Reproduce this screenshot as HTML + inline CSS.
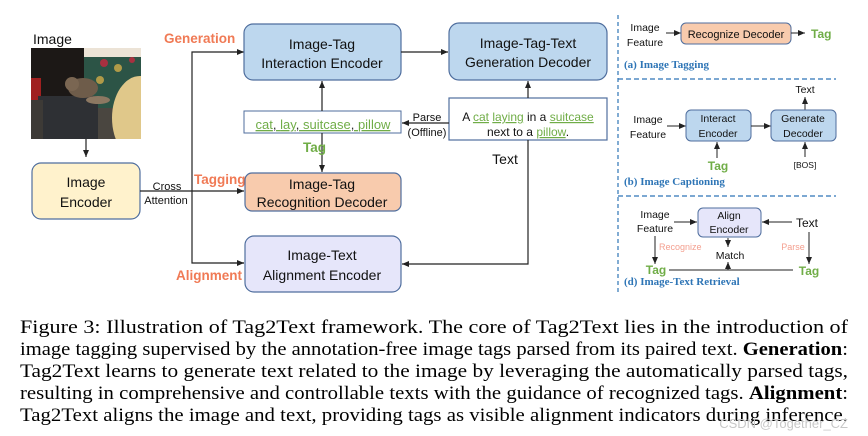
<!DOCTYPE html>
<html><head><meta charset="utf-8"><style>
html,body{margin:0;padding:0;background:#fff;width:868px;height:436px;overflow:hidden}
svg{display:block}
.s{font-family:"Liberation Sans",sans-serif}
</style></head><body>
<svg width="868" height="436" viewBox="0 0 868 436" xmlns="http://www.w3.org/2000/svg">
<defs>
<marker id="a" markerWidth="8" markerHeight="8" refX="7" refY="4" orient="auto" markerUnits="userSpaceOnUse"><path d="M0,1 L7,4 L0,7 z" fill="#222"/></marker>
<clipPath id="pc"><rect x="31" y="48" width="110" height="91"/></clipPath>
</defs>
<g class="s" font-size="14" fill="#111">
<!-- photo -->
<text x="33" y="44" font-size="14">Image</text>
<g clip-path="url(#pc)">
<rect x="31" y="48" width="110" height="91" fill="#4a4640"/>
<rect x="84" y="48" width="57" height="60" fill="#2c5446"/>
<rect x="84" y="48" width="57" height="9" fill="#ece3d6"/>
<rect x="31" y="48" width="53" height="50" fill="#1c1816"/>
<circle cx="104" cy="63" r="4" fill="#a83040"/><circle cx="118" cy="68" r="4" fill="#b09a48"/><circle cx="132" cy="60" r="3" fill="#a83040"/><circle cx="100" cy="80" r="4" fill="#b09a48"/>
<ellipse cx="140" cy="118" rx="28" ry="42" fill="#e0c88a"/>
<rect x="31" y="78" width="10" height="22" fill="#a02020"/>
<rect x="38" y="96" width="60" height="43" fill="#2e3034"/>
<rect x="31" y="100" width="12" height="39" fill="#3d3a36"/>
<ellipse cx="83" cy="88" rx="15" ry="10" fill="#6e5c4a"/>
<circle cx="72" cy="84" r="7" fill="#7a6652"/>
<ellipse cx="98" cy="100" rx="12" ry="4" fill="#8c7862"/>
</g>
<line x1="86" y1="139" x2="86" y2="157" stroke="#222" stroke-width="1.2" marker-end="url(#a)"/>
<!-- image encoder -->
<rect x="32" y="163" width="108" height="56" rx="9" fill="#fff2cc" stroke="#4f6e9e" stroke-width="1.2"/>
<text x="86" y="187" text-anchor="middle" font-size="14">Image</text>
<text x="86" y="207" text-anchor="middle" font-size="14">Encoder</text>
<line x1="140" y1="191" x2="244" y2="191" stroke="#222" stroke-width="1.2" marker-end="url(#a)"/>
<text x="167" y="190" text-anchor="middle" font-size="11">Cross</text>
<text x="166" y="204" text-anchor="middle" font-size="11">Attention</text>
<polyline points="244,52 192,52 192,263 244,263" fill="none" stroke="#222" stroke-width="1.2"/>
<line x1="230" y1="52" x2="244" y2="52" stroke="#222" stroke-width="1.2" marker-end="url(#a)"/>
<line x1="230" y1="263" x2="244" y2="263" stroke="#222" stroke-width="1.2" marker-end="url(#a)"/>
<g fill="#f07a55" font-weight="bold" font-size="13.5">
<text x="164" y="43">Generation</text><text x="194" y="184">Tagging</text><text x="176" y="280">Alignment</text></g>
<!-- boxes -->
<rect x="244" y="24" width="157" height="56" rx="9" fill="#bdd7ee" stroke="#4f6e9e" stroke-width="1.2"/>
<text x="322" y="49" text-anchor="middle">Image-Tag</text>
<text x="322" y="68" text-anchor="middle">Interaction Encoder</text>
<rect x="244" y="111" width="157" height="22" fill="#fff" stroke="#4f6e9e" stroke-width="1"/>
<text x="323" y="129" text-anchor="middle" font-size="13" fill="#70ad47" text-decoration="underline">cat<tspan fill="#333">, </tspan>lay<tspan fill="#333">, </tspan>suitcase<tspan fill="#333">, </tspan>pillow</text>
<line x1="322" y1="111" x2="322" y2="81" stroke="#222" stroke-width="1.2" marker-end="url(#a)"/>
<line x1="322" y1="133" x2="322" y2="172" stroke="#222" stroke-width="1.2" marker-end="url(#a)"/>
<text x="303" y="152" fill="#70ad47" font-weight="bold" font-size="13.5">Tag</text>
<rect x="245" y="173" width="156" height="38" rx="7" fill="#f8cbad" stroke="#4f6e9e" stroke-width="1.2"/>
<text x="322" y="189" text-anchor="middle">Image-Tag</text>
<text x="322" y="207" text-anchor="middle">Recognition Decoder</text>
<rect x="245" y="236" width="156" height="56" rx="9" fill="#e6e6fa" stroke="#4f6e9e" stroke-width="1.2"/>
<text x="322" y="260" text-anchor="middle">Image-Text</text>
<text x="322" y="280" text-anchor="middle">Alignment Encoder</text>
<rect x="449" y="23" width="158" height="57" rx="10" fill="#bdd7ee" stroke="#4f6e9e" stroke-width="1.2"/>
<text x="528" y="48" text-anchor="middle">Image-Tag-Text</text>
<text x="528" y="67" text-anchor="middle">Generation Decoder</text>
<line x1="401" y1="52" x2="448" y2="52" stroke="#222" stroke-width="1.2" marker-end="url(#a)"/>
<rect x="449" y="98" width="158" height="42" fill="#fff" stroke="#4f6e9e" stroke-width="1.2"/>
<text x="528" y="121" text-anchor="middle" font-size="12">A <tspan fill="#70ad47" text-decoration="underline">cat</tspan> <tspan fill="#70ad47" text-decoration="underline">laying</tspan> in a <tspan fill="#70ad47" text-decoration="underline">suitcase</tspan></text>
<text x="528" y="136" text-anchor="middle" font-size="12">next to a <tspan fill="#70ad47" text-decoration="underline">pillow</tspan>.</text>
<line x1="528" y1="98" x2="528" y2="81" stroke="#222" stroke-width="1.2" marker-end="url(#a)"/>
<line x1="449" y1="123" x2="402" y2="123" stroke="#222" stroke-width="1.2" marker-end="url(#a)"/>
<text x="427" y="121" text-anchor="middle" font-size="11">Parse</text>
<text x="427" y="136" text-anchor="middle" font-size="11">(Offline)</text>
<text x="505" y="164" text-anchor="middle" font-size="14">Text</text>
<polyline points="528,140 528,264 402,264" fill="none" stroke="#222" stroke-width="1.2" marker-end="url(#a)"/>
<!-- right panels -->
<line x1="618" y1="15" x2="618" y2="292" stroke="#2e75b6" stroke-width="1.2" stroke-dasharray="4,3"/>
<line x1="618" y1="79" x2="836" y2="79" stroke="#2e75b6" stroke-width="1.2" stroke-dasharray="5,3"/>
<line x1="618" y1="196" x2="836" y2="196" stroke="#2e75b6" stroke-width="1.2" stroke-dasharray="5,3"/>
<g font-size="10.5">
<text x="645" y="31" text-anchor="middle">Image</text><text x="645" y="46" text-anchor="middle">Feature</text>
<line x1="666" y1="33" x2="681" y2="33" stroke="#222" marker-end="url(#a)"/>
<rect x="681" y="23" width="110" height="21" rx="5" fill="#f8cbad" stroke="#4f6e9e"/>
<text x="736" y="38" text-anchor="middle" font-size="11">Recognize Decoder</text>
<line x1="791" y1="33" x2="805" y2="33" stroke="#222" marker-end="url(#a)"/>
<text x="811" y="38" fill="#70ad47" font-weight="bold" font-size="12">Tag</text>
<text x="624" y="68" font-family="Liberation Serif,serif" font-weight="bold" fill="#2e75b6" font-size="11">(a) Image Tagging</text>

<text x="805" y="93" text-anchor="middle">Text</text>
<line x1="805" y1="110" x2="805" y2="97" stroke="#222" marker-end="url(#a)"/>
<text x="648" y="123" text-anchor="middle">Image</text><text x="648" y="138" text-anchor="middle">Feature</text>
<line x1="667" y1="126" x2="686" y2="126" stroke="#222" marker-end="url(#a)"/>
<rect x="686" y="110" width="65" height="31" rx="5" fill="#bdd7ee" stroke="#4f6e9e"/>
<text x="718" y="122" text-anchor="middle">Interact</text><text x="718" y="137" text-anchor="middle">Encoder</text>
<line x1="751" y1="126" x2="771" y2="126" stroke="#222" marker-end="url(#a)"/>
<rect x="771" y="110" width="65" height="31" rx="5" fill="#bdd7ee" stroke="#4f6e9e"/>
<text x="803" y="122" text-anchor="middle">Generate</text><text x="803" y="137" text-anchor="middle">Decoder</text>
<line x1="717" y1="158" x2="717" y2="142" stroke="#222" marker-end="url(#a)"/>
<text x="718" y="170" text-anchor="middle" fill="#70ad47" font-weight="bold" font-size="12">Tag</text>
<line x1="805" y1="157" x2="805" y2="142" stroke="#222" marker-end="url(#a)"/>
<text x="805" y="168" text-anchor="middle" font-size="8.5">[BOS]</text>
<text x="624" y="185" font-family="Liberation Serif,serif" font-weight="bold" fill="#2e75b6" font-size="11">(b) Image Captioning</text>

<text x="655" y="218" text-anchor="middle">Image</text><text x="655" y="232" text-anchor="middle">Feature</text>
<line x1="674" y1="222" x2="697" y2="222" stroke="#222" marker-end="url(#a)"/>
<rect x="698" y="208" width="63" height="29" rx="5" fill="#e6e6fa" stroke="#4f6e9e"/>
<text x="729" y="219" text-anchor="middle">Align</text><text x="729" y="233" text-anchor="middle">Encoder</text>
<line x1="792" y1="222" x2="762" y2="222" stroke="#222" marker-end="url(#a)"/>
<text x="807" y="227" text-anchor="middle" font-size="12">Text</text>
<line x1="655" y1="236" x2="655" y2="264" stroke="#222" marker-end="url(#a)"/>
<line x1="809" y1="232" x2="809" y2="264" stroke="#222" marker-end="url(#a)"/>
<text x="659" y="250" fill="#f4a090" font-size="9">Recognize</text>
<text x="793" y="250" text-anchor="middle" fill="#f4a090" font-size="9">Parse</text>
<line x1="728" y1="238" x2="728" y2="247" stroke="#222" marker-end="url(#a)"/>
<text x="730" y="259" text-anchor="middle">Match</text>
<line x1="669" y1="270" x2="793" y2="270" stroke="#222"/>
<line x1="728" y1="270" x2="728" y2="262" stroke="#222" marker-end="url(#a)"/>
<text x="656" y="274" text-anchor="middle" fill="#70ad47" font-weight="bold" font-size="12">Tag</text>
<text x="809" y="275" text-anchor="middle" fill="#70ad47" font-weight="bold" font-size="12">Tag</text>
<text x="624" y="285" font-family="Liberation Serif,serif" font-weight="bold" fill="#2e75b6" font-size="11">(d) Image-Text Retrieval</text>
</g>
</g>
<g font-family="Liberation Serif,serif" font-size="19" fill="#000">
<text x="20" y="333" textLength="828" lengthAdjust="spacingAndGlyphs">Figure 3: Illustration of Tag2Text framework.  The core of Tag2Text lies in the introduction of</text>
<text x="20" y="355" textLength="828" lengthAdjust="spacingAndGlyphs">image tagging supervised by the annotation-free image tags parsed from its paired text. <tspan font-weight="bold">Generation</tspan>:</text>
<text x="20" y="377" textLength="828" lengthAdjust="spacingAndGlyphs">Tag2Text learns to generate text related to the image by leveraging the automatically parsed tags,</text>
<text x="20" y="399" textLength="828" lengthAdjust="spacingAndGlyphs">resulting in comprehensive and controllable texts with the guidance of recognized tags. <tspan font-weight="bold">Alignment</tspan>:</text>
<text x="20" y="421" textLength="828" lengthAdjust="spacingAndGlyphs">Tag2Text aligns the image and text, providing tags as visible alignment indicators during inference.</text>
</g>
<text x="848" y="428" font-family="Liberation Sans,sans-serif" font-size="13" fill="#c8c8c8" text-anchor="end">CSDN @Together_CZ</text>
</svg>
</body></html>
